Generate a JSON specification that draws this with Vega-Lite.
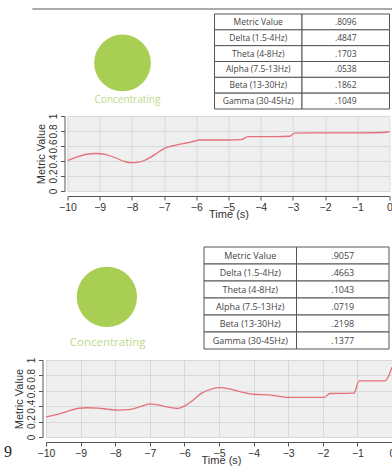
{
  "$schema": "https://vega.github.io/schema/vega-lite/v6.json",
  "background": "white",
  "padding": {"left": 4, "top": 7, "right": 0, "bottom": 0},
  "bounds": "flush",
  "center": true,
  "spacing": 169,
  "datasets": {
    "ts1": [
      {"t": -10, "v": 0.405}, {"t": -9.7, "v": 0.455}, {"t": -9.4, "v": 0.49}, {"t": -9.1, "v": 0.5},
      {"t": -8.8, "v": 0.485}, {"t": -8.5, "v": 0.44}, {"t": -8.2, "v": 0.39}, {"t": -8.0, "v": 0.378},
      {"t": -7.8, "v": 0.385}, {"t": -7.6, "v": 0.41}, {"t": -7.4, "v": 0.455}, {"t": -7.2, "v": 0.51},
      {"t": -7.0, "v": 0.565}, {"t": -6.75, "v": 0.6}, {"t": -6.5, "v": 0.625}, {"t": -6.3, "v": 0.64},
      {"t": -6.1, "v": 0.66}, {"t": -5.9, "v": 0.68}, {"t": -5.5, "v": 0.68}, {"t": -5.0, "v": 0.68},
      {"t": -4.6, "v": 0.685}, {"t": -4.4, "v": 0.725}, {"t": -3.5, "v": 0.725}, {"t": -3.1, "v": 0.73},
      {"t": -2.95, "v": 0.772}, {"t": -2.0, "v": 0.775}, {"t": -1.0, "v": 0.775}, {"t": -0.2, "v": 0.78},
      {"t": 0, "v": 0.79}
    ],
    "ts2": [
      {"t": -10, "v": 0.26}, {"t": -9.7, "v": 0.29}, {"t": -9.4, "v": 0.33}, {"t": -9.1, "v": 0.37},
      {"t": -8.8, "v": 0.38}, {"t": -8.5, "v": 0.375}, {"t": -8.2, "v": 0.36}, {"t": -7.9, "v": 0.35},
      {"t": -7.6, "v": 0.355}, {"t": -7.3, "v": 0.39}, {"t": -7.0, "v": 0.43}, {"t": -6.8, "v": 0.42},
      {"t": -6.5, "v": 0.39}, {"t": -6.2, "v": 0.37}, {"t": -6.0, "v": 0.4}, {"t": -5.8, "v": 0.46},
      {"t": -5.5, "v": 0.57}, {"t": -5.2, "v": 0.625}, {"t": -5.0, "v": 0.64}, {"t": -4.7, "v": 0.625},
      {"t": -4.4, "v": 0.59}, {"t": -4.0, "v": 0.555}, {"t": -3.5, "v": 0.545}, {"t": -3.0, "v": 0.515},
      {"t": -2.5, "v": 0.515}, {"t": -1.95, "v": 0.515}, {"t": -1.8, "v": 0.565}, {"t": -1.1, "v": 0.57},
      {"t": -0.95, "v": 0.73}, {"t": -0.2, "v": 0.73}, {"t": 0, "v": 0.905}
    ],
    "tab1": [
      {"band": "Metric Value", "val": ".8096"},
      {"band": "Delta (1.5-4Hz)", "val": ".4847"},
      {"band": "Theta (4-8Hz)", "val": ".1703"},
      {"band": "Alpha (7.5-13Hz)", "val": ".0538"},
      {"band": "Beta (13-30Hz)", "val": ".1862"},
      {"band": "Gamma (30-45Hz)", "val": ".1049"}
    ],
    "tab2": [
      {"band": "Metric Value", "val": ".9057"},
      {"band": "Delta (1.5-4Hz)", "val": ".4663"},
      {"band": "Theta (4-8Hz)", "val": ".1043"},
      {"band": "Alpha (7.5-13Hz)", "val": ".0719"},
      {"band": "Beta (13-30Hz)", "val": ".2198"},
      {"band": "Gamma (30-45Hz)", "val": ".1377"}
    ],
    "status": [{"state": "Concentrating", "fig": "9"}]
  },
  "config": {
    "font": "Liberation Sans",
    "view": {"stroke": null, "fill": "#efefef"},
    "axis": {
      "domainColor": "#555", "tickColor": "#555", "labelColor": "#333", "titleColor": "#333",
      "gridColor": "#d8d8d8", "gridWidth": 1, "labelFontSize": 10.5, "titleFontSize": 11,
      "titleFontWeight": "normal", "tickSize": 4, "labelOverlap": false, "labelFlush": false,
      "labelPadding": 2, "grid": true, "domainWidth": 1
    },
    "axisY": {"labelAngle": -90, "labelFontSize": 10, "titlePadding": 2}
  },
  "vconcat": [
    {
      "width": 322,
      "height": 75,
      "layer": [
        {
          "data": {"name": "ts1"},
          "mark": {"type": "line", "color": "#e4717a", "strokeWidth": 1.3, "interpolate": "monotone"},
          "encoding": {
            "x": {"field": "t", "type": "quantitative", "scale": {"domain": [-10, 0], "nice": false, "zero": false},
                  "axis": {"values": [-10, -9, -8, -7, -6, -5, -4, -3, -2, -1, 0], "labelOverlap": false, "title": "Time (s)", "offset": 5, "titlePadding": -4}},
            "y": {"field": "v", "type": "quantitative", "scale": {"domain": [0, 1], "nice": false, "zero": false},
                  "axis": {"values": [0, 0.2, 0.4, 0.6, 0.8, 1], "labelOverlap": false, "format": "~g", "title": "Metric Value", "labelAngle": -90, "offset": 3}}
          }
        },
        {
          "data": {"name": "status"},
          "encoding": {
            "x": {"datum": -8.292, "scale": {"domain": [-10, 0], "nice": false, "zero": false}, "axis": null},
            "y": {"datum": 1.707, "scale": {"domain": [0, 1], "nice": false, "zero": false}, "axis": null}
          },
          "layer": [
            {"mark": {"type": "circle", "size": 3217, "color": "#a8cf53", "opacity": 1}},
            {
              "mark": {"type": "text", "fontSize": 10, "color": "#bcd98c", "font": "Open Sans", "baseline": "middle"},
              "encoding": {"x": {"datum": -8.137}, "y": {"datum": 1.213}, "text": {"field": "state"}}
            },
            {
              "mark": {"type": "rule", "color": "#ababab", "strokeWidth": 2},
              "encoding": {"x": {"datum": -11.09}, "x2": {"datum": 0.1}, "y": {"datum": 2.427}}
            }
          ]
        },
        {
          "data": {"name": "tab1"},
          "transform": [{"fold": ["band", "val"], "as": ["col", "txt"]}],
          "encoding": {
            "x": {"field": "col", "type": "nominal", "sort": ["band", "val"], "scale": {"range": [147, 322], "paddingInner": 0, "paddingOuter": 0}, "axis": null},
            "y": {"field": "band", "type": "nominal", "sort": null, "scale": {"range": [-102, -7], "paddingInner": 0, "paddingOuter": 0}, "axis": null}
          },
          "layer": [
            {"mark": {"type": "rect", "fill": "white", "stroke": "#555", "strokeWidth": 1}},
            {"mark": {"type": "text", "fontSize": 8.5, "color": "#444", "font": "Open Sans"}, "encoding": {"text": {"field": "txt"}}}
          ]
        }
      ],
      "resolve": {"scale": {"x": "independent", "y": "independent"}}
    },
    {
      "width": 365,
      "height": 77,
      "layer": [
        {
          "data": {"name": "ts2"},
          "mark": {"type": "line", "color": "#e4717a", "strokeWidth": 1.3, "interpolate": "monotone"},
          "encoding": {
            "x": {"field": "t", "type": "quantitative", "scale": {"domain": [-10, 0.549], "nice": false, "zero": false},
                  "axis": {"values": [-10, -9, -8, -7, -6, -5, -4, -3, -2, -1, 0], "labelOverlap": false, "title": "Time (s)", "offset": 5, "titlePadding": -4, "titleX": 175}},
            "y": {"field": "v", "type": "quantitative", "scale": {"domain": [0, 1], "nice": false, "zero": false},
                  "axis": {"values": [0, 0.2, 0.4, 0.6, 0.8, 1], "labelOverlap": false, "format": "~g", "title": "Metric Value", "labelAngle": -90, "offset": 3.5}}
          }
        },
        {
          "data": {"name": "status"},
          "encoding": {
            "x": {"datum": -8.24, "scale": {"domain": [-10, 0.549], "nice": false, "zero": false}, "axis": null},
            "y": {"datum": 1.82, "scale": {"domain": [0, 1], "nice": false, "zero": false}, "axis": null}
          },
          "layer": [
            {"mark": {"type": "circle", "size": 3632, "color": "#a8cf53", "opacity": 1}},
            {
              "mark": {"type": "text", "fontSize": 11.5, "color": "#bcd98c", "font": "Open Sans", "baseline": "middle"},
              "encoding": {"x": {"datum": -8.22}, "y": {"datum": 1.221}, "text": {"field": "state"}}
            },
            {
              "mark": {"type": "text", "fontSize": 16, "color": "#222", "font": "Liberation Serif", "baseline": "middle"},
              "encoding": {"x": {"datum": -11.098}, "y": {"datum": -0.195}, "text": {"field": "fig"}}
            }
          ]
        },
        {
          "data": {"name": "tab2"},
          "transform": [{"fold": ["band", "val"], "as": ["col", "txt"]}],
          "encoding": {
            "x": {"field": "col", "type": "nominal", "sort": ["band", "val"], "scale": {"range": [158, 343], "paddingInner": 0, "paddingOuter": 0}, "axis": null},
            "y": {"field": "band", "type": "nominal", "sort": null, "scale": {"range": [-113, -11], "paddingInner": 0, "paddingOuter": 0}, "axis": null}
          },
          "layer": [
            {"mark": {"type": "rect", "fill": "white", "stroke": "#555", "strokeWidth": 1}},
            {"mark": {"type": "text", "fontSize": 9, "color": "#444", "font": "Open Sans"}, "encoding": {"text": {"field": "txt"}}}
          ]
        }
      ],
      "resolve": {"scale": {"x": "independent", "y": "independent"}}
    }
  ]
}
